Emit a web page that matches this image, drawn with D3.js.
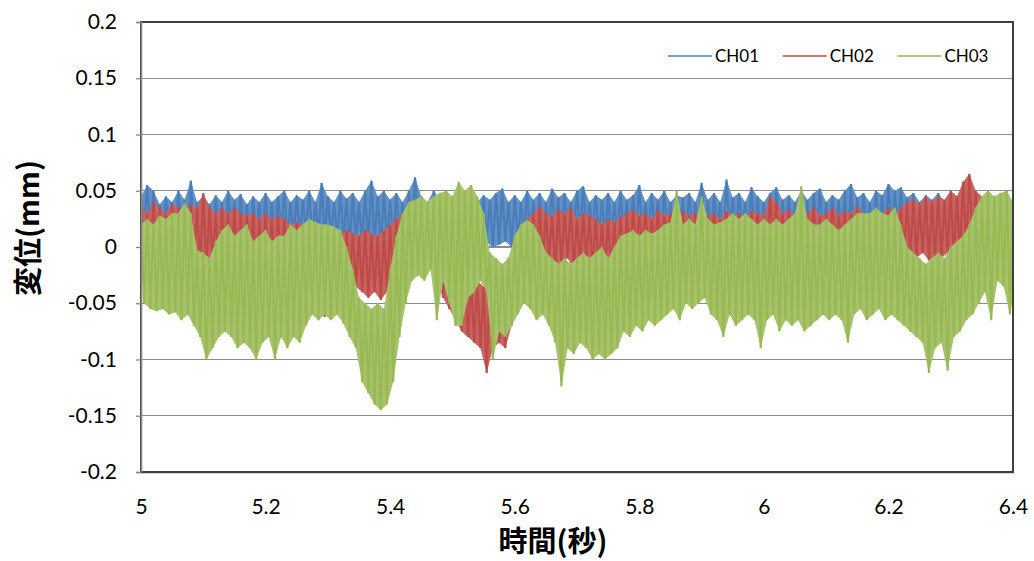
<!DOCTYPE html>
<html>
<head>
<meta charset="utf-8">
<script src="https://cdn.jsdelivr.net/npm/d3@7"></script>
<style>
  body { margin: 0; background: #ffffff; }
  svg { display: block; }
</style>
</head>
<body>
<svg id="chart" width="1034" height="561"></svg>
<script>
// Displacement records, summarised per 0.01 s bin as the upper (Hi) and
// lower (Lo) excursion of the signal inside that bin, from 5.00 s to 6.40 s.
const tStart = 5.0;
const tStep = 0.01;

const ch01Hi = [
  0.045, 0.055, 0.05, 0.038, 0.045, 0.04, 0.05, 0.042, 0.059, 0.04,
  0.045, 0.038, 0.046, 0.04, 0.05, 0.042, 0.047, 0.038, 0.045, 0.04,
  0.048, 0.04, 0.045, 0.05, 0.04, 0.046, 0.042, 0.05, 0.04, 0.057,
  0.045, 0.04, 0.05, 0.043, 0.048, 0.04, 0.05, 0.059, 0.045, 0.05,
  0.042, 0.048, 0.04, 0.05, 0.062, 0.045, 0.04, 0.05, 0.042, 0.045,
  0.04, 0.048, 0.042, 0.05, 0.04, 0.046, 0.042, 0.048, 0.052, 0.04,
  0.046, 0.04, 0.05, 0.042, 0.048, 0.04, 0.052, 0.044, 0.048, 0.04,
  0.05, 0.054, 0.04, 0.046, 0.042, 0.048, 0.04, 0.05, 0.042, 0.046,
  0.055, 0.04, 0.048, 0.042, 0.05, 0.04, 0.046, 0.044, 0.048, 0.04,
  0.057, 0.042, 0.048, 0.04, 0.06, 0.044, 0.048, 0.04, 0.053, 0.045,
  0.04, 0.048, 0.053, 0.042, 0.046, 0.04, 0.05, 0.042, 0.048, 0.052,
  0.04, 0.046, 0.042, 0.05, 0.056, 0.044, 0.048, 0.04, 0.05, 0.046,
  0.056, 0.05, 0.053, 0.044, 0.048, 0.04, 0.046, 0.042, 0.048, 0.04,
  0.045, 0.04, 0.048, 0.042, 0.046, 0.04, 0.045, 0.042, 0.048, 0.035,
  0.03
];
const ch01Lo = [
  0.02, 0.012, 0.018, 0.01, 0.015, 0.008, 0.012, 0.01, 0.015, 0.005,
  0.01, 0.005, 0.008, -0.003, 0.01, 0.005, 0.012, 0.008, 0.01, 0.006,
  0.01, 0.008, 0.012, 0.005, 0.01, 0.008, 0.012, 0.006, 0.01, 0.008,
  0.01, 0.005, 0.008, 0.002, 0.005, 0.0, 0.004, 0.002, 0.0, 0.005,
  0.002, 0.008, 0.012, 0.01, 0.015, 0.012, 0.01, 0.015, 0.01, 0.008,
  0.005, 0.008, 0.002, 0.005, 0.0, 0.004, 0.0, 0.002, 0.005, 0.0,
  0.004, 0.008, 0.01, 0.012, 0.01, 0.015, 0.012, 0.01, 0.015, 0.012,
  0.01, 0.015, 0.012, 0.01, 0.008, 0.005, 0.008, 0.01, 0.012, 0.01,
  0.012, 0.01, 0.015, 0.012, 0.01, 0.012, 0.015, 0.01, 0.012, 0.01,
  0.012, 0.01, 0.015, 0.008, 0.012, 0.01, 0.015, 0.012, 0.01, 0.012,
  0.01, 0.012, 0.015, 0.01, 0.012, 0.008, 0.012, 0.01, 0.015, 0.01,
  0.01, 0.005, 0.008, 0.0, 0.002, 0.008, 0.01, 0.012, 0.01, 0.012,
  0.01, 0.012, 0.008, 0.01, 0.005, 0.008, 0.01, 0.005, 0.008, 0.01,
  0.012, 0.01, 0.015, 0.012, 0.01, 0.012, 0.015, 0.01, 0.012, 0.008,
  0.01
];

const ch02Hi = [
  0.035, 0.03, 0.04, 0.035, 0.03, 0.038, 0.035, 0.03, 0.038, 0.035,
  0.048, 0.035, 0.03, 0.035, 0.03, 0.035, 0.03, 0.028, 0.03, 0.025,
  0.03, 0.025, 0.028, 0.025, 0.02, 0.022, 0.02, 0.018, 0.015, 0.012,
  0.015, 0.01, 0.012, 0.015, 0.012, 0.01, 0.015, 0.012, 0.01, 0.015,
  0.02, 0.025, 0.03, 0.032, 0.035, 0.03, 0.035, 0.03, 0.025, 0.01,
  -0.01, -0.02, -0.025, -0.03, -0.03, -0.035, -0.03, -0.03, -0.02, -0.01,
  0.005, 0.015, 0.025, 0.03, 0.036, 0.03, 0.028, 0.033, 0.03, 0.035,
  0.025, 0.03, 0.028, 0.025, 0.02, 0.025, 0.022, 0.027, 0.03, 0.033,
  0.028, 0.03, 0.025, 0.033, 0.028, 0.03, 0.026, 0.032, 0.028, 0.03,
  0.033, 0.028, 0.03, 0.025, 0.032, 0.028, 0.03, 0.026, 0.032, 0.03,
  0.028, 0.045, 0.04, 0.03, 0.033, 0.028, 0.032, 0.03, 0.035, 0.028,
  0.03, 0.035, 0.028, 0.032, 0.03, 0.036, 0.03, 0.028, 0.033, 0.03,
  0.035, 0.03, 0.035, 0.04, 0.042, 0.038, 0.045, 0.04, 0.045, 0.042,
  0.05, 0.045, 0.058, 0.065, 0.05, 0.045, 0.04, 0.038, 0.04, 0.035,
  0.03
];
const ch02Lo = [
  -0.01, -0.005, -0.01, -0.005, -0.01, -0.005, -0.01, -0.005, -0.01, -0.015,
  -0.02, -0.015, -0.02, -0.015, -0.018, -0.02, -0.015, -0.02, -0.018, -0.02,
  -0.015, -0.02, -0.015, -0.018, -0.015, -0.02, -0.03, -0.045, -0.06, -0.062,
  -0.055, -0.05, -0.04, -0.03, -0.035, -0.04, -0.045, -0.04, -0.047, -0.04,
  -0.035, -0.02, -0.01, -0.005, -0.01, -0.01, -0.015, -0.03, -0.045, -0.055,
  -0.065, -0.075, -0.08, -0.085, -0.09, -0.112, -0.09, -0.085, -0.09, -0.07,
  -0.04, -0.025, -0.015, -0.02, -0.015, -0.01, -0.02, -0.015, -0.01, -0.02,
  -0.015, -0.012, -0.02, -0.018, -0.02, -0.024, -0.02, -0.022, -0.01, -0.005,
  0.0, -0.005, 0.0, -0.004, 0.0, -0.005, 0.002, -0.004, 0.0, -0.003,
  -0.002, 0.0, -0.006, -0.004, 0.0, -0.003, 0.002, -0.004, 0.0, -0.002,
  0.002, 0.0, 0.004, 0.0, 0.002, 0.005, 0.0, 0.003, 0.0, 0.004,
  0.002, 0.0, 0.004, -0.002, 0.0, 0.003, 0.005, 0.0, 0.004, 0.002,
  0.0, 0.002, -0.005, -0.008, -0.01, -0.005, -0.012, -0.008, -0.01, -0.005,
  -0.01, -0.005, 0.0, 0.005, 0.005, 0.0, 0.005, 0.0, 0.005, 0.0,
  0.005
];

const ch03Hi = [
  0.02, 0.025, 0.02, 0.028, 0.025, 0.03, 0.03, 0.039, 0.03, -0.003,
  -0.005, -0.01, 0.005, 0.015, 0.02, 0.01, 0.015, 0.02, 0.005, 0.01,
  0.015, 0.005, 0.01, 0.01, 0.02, 0.015, 0.02, 0.025, 0.022, 0.02,
  0.02, 0.018, 0.015, 0.0, -0.02, -0.045, -0.05, -0.055, -0.05, -0.055,
  -0.02, 0.01, 0.03, 0.04, 0.042, 0.045, 0.04, 0.045, 0.048, 0.05,
  0.045, 0.058, 0.05, 0.055, 0.045, 0.03, -0.005, -0.01, -0.015, -0.01,
  0.01, 0.02, 0.024, 0.02, 0.01, -0.005, -0.01, -0.015, -0.01, -0.015,
  -0.01, -0.005, -0.01, -0.005, 0.0, -0.01, 0.0, 0.01, 0.012, 0.015,
  0.01, 0.015, 0.012, 0.015, 0.02, 0.022, 0.05, 0.02, 0.025, 0.02,
  0.045, 0.025, 0.02, 0.022, 0.025, 0.03, 0.025, 0.03, 0.025, 0.02,
  0.025, 0.02, 0.025, 0.02, 0.025, 0.03, 0.054, 0.025, 0.02, 0.02,
  0.025, 0.02, 0.015, 0.02, 0.025, 0.03, 0.03, 0.03, 0.035, 0.03,
  0.028, 0.035, 0.02, 0.0, -0.005, -0.01, -0.015, -0.01, -0.005, -0.01,
  0.0, 0.005, 0.01, 0.02, 0.035, 0.045, 0.05, 0.045, 0.048, 0.05,
  0.04
];
const ch03Lo = [
  -0.05, -0.055, -0.057, -0.055, -0.06, -0.058, -0.065, -0.06, -0.07, -0.08,
  -0.1, -0.09, -0.08, -0.075, -0.08, -0.09, -0.085, -0.09, -0.1, -0.085,
  -0.08, -0.1, -0.08, -0.09, -0.08, -0.085, -0.07, -0.06, -0.065, -0.06,
  -0.065, -0.06, -0.068, -0.08, -0.09, -0.12, -0.13, -0.14, -0.145, -0.14,
  -0.12, -0.08, -0.05, -0.03, -0.025, -0.03, -0.02, -0.065, -0.03, -0.05,
  -0.07, -0.07, -0.045, -0.04, -0.03, -0.04, -0.1, -0.075, -0.08, -0.07,
  -0.06, -0.05, -0.055, -0.065, -0.06, -0.07, -0.085, -0.124, -0.09, -0.095,
  -0.085, -0.09, -0.1, -0.095, -0.1, -0.095, -0.09, -0.075, -0.08, -0.07,
  -0.075, -0.065, -0.07, -0.065, -0.06, -0.055, -0.065, -0.05, -0.055, -0.05,
  -0.045, -0.06, -0.065, -0.08, -0.06, -0.07, -0.065, -0.06, -0.065, -0.09,
  -0.065, -0.06, -0.075, -0.065, -0.07, -0.065, -0.075, -0.07, -0.065, -0.06,
  -0.065, -0.06, -0.065, -0.085, -0.06, -0.055, -0.065, -0.06, -0.055, -0.065,
  -0.06, -0.065, -0.07, -0.075, -0.08, -0.085, -0.112, -0.09, -0.085, -0.11,
  -0.08, -0.075, -0.065, -0.06, -0.05, -0.04, -0.065, -0.03, -0.035, -0.06,
  -0.03
];

const seriesNames = ["CH01", "CH02", "CH03"];
const seriesColors = ["#4A7EBB", "#BE4B48", "#98B954"];

const xTicks = [5, 5.2, 5.4, 5.6, 5.8, 6, 6.2, 6.4];
const xTickLabels = ["5", "5.2", "5.4", "5.6", "5.8", "6", "6.2", "6.4"];
const yTicks = [-0.2, -0.15, -0.1, -0.05, 0, 0.05, 0.1, 0.15, 0.2];
const yTickLabels = ["-0.2", "-0.15", "-0.1", "-0.05", "0", "0.05", "0.1", "0.15", "0.2"];

const xTitle = "時間(秒)";
const yTitle = "変位(mm)";

// ---- layout ----
const W = 1034, H = 561;
const plot = { left: 141, right: 1013, top: 22, bottom: 472 };

const svg = d3.select("#chart");
svg.append("rect").attr("width", W).attr("height", H).attr("fill", "#ffffff");

const x = d3.scaleLinear().domain([5, 6.4]).range([plot.left, plot.right]);
const y = d3.scaleLinear().domain([-0.2, 0.2]).range([plot.bottom, plot.top]);

const tickFont = "Lato, 'Liberation Sans', sans-serif";
const cjkFont = "'Noto Sans CJK JP', 'Noto Sans', sans-serif";

// horizontal gridlines
svg.append("g")
  .selectAll("line")
  .data(yTicks.filter(v => v > -0.2 && v < 0.2))
  .join("line")
  .attr("x1", plot.left).attr("x2", plot.right)
  .attr("y1", d => y(d)).attr("y2", d => y(d))
  .attr("stroke", "#8c8c8c")
  .attr("stroke-width", 1.3)
  .attr("shape-rendering", "crispEdges");

svg.append("defs").append("clipPath").attr("id", "plotClip")
  .append("rect")
  .attr("x", plot.left).attr("y", plot.top)
  .attr("width", plot.right - plot.left).attr("height", plot.bottom - plot.top);

// per-bin records: time, upper excursion, lower excursion
function binRecords(hi, lo) {
  return hi.map((h, i) => ({ t: tStart + i * tStep, hi: h, lo: lo[i] }));
}
const traces = [
  binRecords(ch01Hi, ch01Lo),
  binRecords(ch02Hi, ch02Lo),
  binRecords(ch03Hi, ch03Lo)
];

// opaque band between the excursions (a slightly paler tint of the series
// colour), with the up/down swing stroked over it in the full colour
const band = d3.area()
  .x1(d => x(d.t))
  .x0(d => x(d.t + tStep / 2))
  .y1(d => y(d.hi))
  .y0(d => y(d.lo));

const swing = d3.line()
  .x(d => x(d[0]))
  .y(d => y(d[1]));
function swingPoints(recs) {
  const pts = [];
  recs.forEach(r => { pts.push([r.t, r.hi]); pts.push([r.t + tStep / 2, r.lo]); });
  return pts;
}

const gSeries = svg.append("g")
  .attr("clip-path", "url(#plotClip)")
  .selectAll("g")
  .data(traces)
  .join("g");

gSeries.append("path")
  .attr("d", band)
  .attr("fill", (d, i) => d3.interpolateRgb(seriesColors[i], "#ffffff")(0.14))
  .attr("stroke", "none");

gSeries.append("path")
  .attr("d", d => swing(swingPoints(d)))
  .attr("fill", "none")
  .attr("stroke", (d, i) => seriesColors[i])
  .attr("stroke-width", 2.2)
  .attr("stroke-linejoin", "bevel");

// plot frame
svg.append("rect")
  .attr("x", plot.left).attr("y", plot.top)
  .attr("width", plot.right - plot.left).attr("height", plot.bottom - plot.top)
  .attr("fill", "none")
  .attr("stroke", "#404040")
  .attr("stroke-width", 1.3)
  .attr("shape-rendering", "crispEdges");

// y axis
const yAxis = d3.axisLeft(y)
  .tickValues(yTicks)
  .tickFormat((d, i) => yTickLabels[i])
  .tickSize(5)
  .tickPadding(19);
const gy = svg.append("g").attr("transform", `translate(${plot.left},0)`).call(yAxis);
gy.select(".domain").attr("stroke", "#868686").attr("stroke-width", 1.6);
gy.selectAll(".tick line").attr("stroke", "#868686").attr("stroke-width", 1.3);
gy.selectAll(".tick text")
  .attr("font-family", tickFont)
  .attr("font-size", 21)
  .attr("fill", "#000");

// x axis
const xAxis = d3.axisBottom(x)
  .tickValues(xTicks)
  .tickFormat((d, i) => xTickLabels[i])
  .tickSize(0)
  .tickPadding(27);
const gx = svg.append("g").attr("transform", `translate(0,${plot.bottom})`).call(xAxis);
gx.select(".domain").attr("stroke", "#404040").attr("stroke-width", 1.3);
gx.selectAll(".tick text")
  .attr("font-family", tickFont)
  .attr("font-size", 21)
  .attr("fill", "#000");

// axis titles
svg.append("text")
  .attr("x", 553)
  .attr("y", 552)
  .attr("text-anchor", "middle")
  .attr("font-family", cjkFont)
  .attr("font-weight", 700)
  .attr("font-size", 29)
  .text(xTitle);

svg.append("text")
  .attr("transform", "translate(39,228) rotate(-90)")
  .attr("text-anchor", "middle")
  .attr("font-family", cjkFont)
  .attr("font-weight", 700)
  .attr("font-size", 29)
  .text(yTitle);

// legend
const legend = svg.append("g")
  .selectAll("g")
  .data(seriesNames)
  .join("g")
  .attr("transform", (d, i) => `translate(${668 + i * 114.7},56)`);
legend.append("line")
  .attr("x1", 0).attr("x2", 44)
  .attr("y1", 0).attr("y2", 0)
  .attr("stroke", (d, i) => seriesColors[i])
  .attr("stroke-width", 1.6);
legend.append("text")
  .attr("x", 47)
  .attr("y", 6)
  .attr("font-family", tickFont)
  .attr("font-size", 17)
  .attr("fill", "#000")
  .text(d => d);
</script>
</body>
</html>
